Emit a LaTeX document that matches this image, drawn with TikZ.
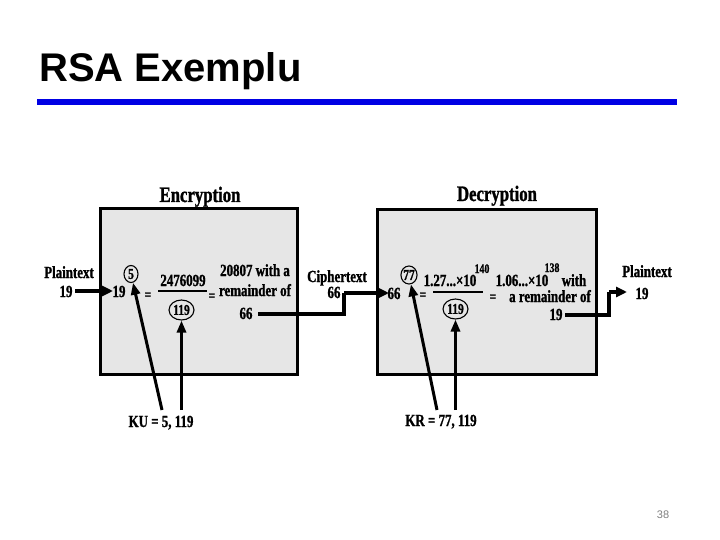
\documentclass[tikz,border=0pt]{standalone}
\usepackage{fontspec}
\setmainfont{Liberation Serif}
\newfontfamily\cond[FakeStretch=0.76,FakeBold=1.2]{Liberation Serif}
\newfontfamily\titlefont{Liberation Sans}
\usetikzlibrary{arrows.meta,shapes.geometric}
\definecolor{barblue}{RGB}{0,0,228}
\definecolor{boxgray}{RGB}{230,230,230}
\begin{document}
\begin{tikzpicture}[x=1pt,y=-1pt,
  lbl/.style={font=\cond\bfseries\fontsize{17}{19}\selectfont, inner sep=0pt, anchor=base},
  head/.style={font=\cond\bfseries\fontsize{22}{24}\selectfont, inner sep=0pt, anchor=base},
  eqs/.style={font=\cond\bfseries\fontsize{15}{15}\selectfont, inner sep=0pt},
  sup/.style={font=\cond\bfseries\fontsize{13}{14}\selectfont, inner sep=0pt, anchor=base},
  ring/.style={ellipse, draw, line width=1.1pt, inner sep=0pt, font=\cond\bfseries\fontsize{15}{16}\selectfont},
  panel/.style={draw, line width=3pt, fill=boxgray},
  arr/.style={line width=3.4pt, -{Triangle[length=11pt,width=10pt]}},
  keyarr/.style={line width=3pt, -{Triangle[length=12pt,width=9pt]}},
  wire/.style={line width=3.4pt}]
\useasboundingbox (0,0) rectangle (720,540);
\fill[white] (0,0) rectangle (720,540);
% title
\node[anchor=base west, inner sep=0pt, font=\titlefont\bfseries\fontsize{40}{44}\selectfont] (title) at (39,82) {RSA Exemplu};
\fill[barblue] (37,99) rectangle (677,105);
% panels
\draw[panel] (100,209) rectangle (297,374);
\draw[panel] (377,210) rectangle (596,374);
\node[head] (enc) at (200,202) {Encryption};
\node[head] (dec) at (497,201) {Decryption};
% encryption side
\node[lbl] (pt1) at (69,278) {Plaintext};
\node[lbl] (pt1n) at (66,297) {19};
\node[lbl] (e19) at (119,297) {19};
\node[ring, minimum width=14pt, minimum height=17pt] (c5) at (131,274) {5};
\node[eqs] (eq1) at (148,296) {=};
\node[lbl] (num1) at (183,286) {2476099};
\draw[line width=2pt] (158,291) -- (207,291);
\node[ring, minimum width=25pt, minimum height=20pt] (c119a) at (181.5,310) {119};
\node[eqs] (eq2) at (212,297) {=};
\node[lbl] (r1a) at (255,276) {20807 with a};
\node[lbl] (r1b) at (255,296) {remainder of};
\node[lbl] (r1c) at (246,319) {66};
% ciphertext
\node[lbl] (ct) at (337,282) {Ciphertext};
\node[lbl] (ctn) at (334,298) {66};
% decryption side
\node[lbl] (d66) at (394,299) {66};
\node[ring, minimum width=16pt, minimum height=18pt] (c77) at (409,275) {77};
\node[eqs] (eq3) at (423,296) {=};
\node[lbl] (num2) at (450,286) {1.27...×10};
\node[sup] (e140) at (482,273) {140};
\draw[line width=2pt] (433,292) -- (483,292);
\node[ring, minimum width=25pt, minimum height=20pt] (c119b) at (455.5,309) {119};
\node[eqs] (eq4) at (493,298) {=};
\node[lbl] (r2a) at (522,286) {1.06...×10};
\node[sup] (e138) at (552,272) {138};
\node[lbl] (r2w) at (574,286) {with};
\node[lbl] (r2b) at (550,302) {a remainder of};
\node[lbl] (r2c) at (556,320) {19};
\node[lbl] (pt2) at (647,277) {Plaintext};
\node[lbl] (pt2n) at (642,299) {19};
% keys
\node[lbl] (ku) at (161,427) {KU = 5, 119};
\node[lbl] (kr) at (441,426) {KR = 77, 119};
% connectors
\coordinate (inA) at (75,291);
\coordinate (inB) at (113,291);
\draw[arr] (inA) -- (inB);
\coordinate (w1) at (258,314);
\coordinate (w2) at (344,314);
\coordinate (w3) at (344,293);
\coordinate (w4) at (389,293);
\draw[wire] (w1) -- (w2) -- (w3);
\draw[arr] (w3) -- (w4);
\coordinate (v1) at (565,315);
\coordinate (v2) at (609,315);
\coordinate (v3) at (609,292);
\coordinate (v4) at (627,292);
\draw[wire] (v1) -- (v2) -- (v3);
\draw[arr] (v3) -- (v4);
\coordinate (kuA) at (162,410);
\coordinate (kuB) at (181.5,410);
\draw[keyarr] (kuA) -- (c5);
\draw[keyarr] (kuB) -- (c119a.south);
\coordinate (krA) at (437,410);
\coordinate (krB) at (455.5,410);
\draw[keyarr] (krA) -- (c77);
\draw[keyarr] (krB) -- (c119b.south);
% page number
\node[font=\titlefont\fontsize{11}{12}\selectfont, text=gray, inner sep=0pt] (pg) at (663,515) {38};
\end{tikzpicture}
\end{document}
